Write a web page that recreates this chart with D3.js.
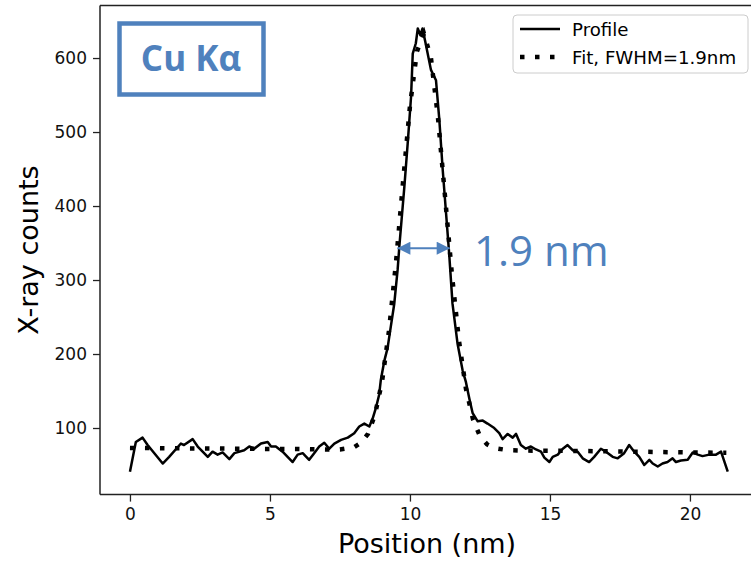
<!DOCTYPE html>
<html>
<head>
<meta charset="utf-8">
<script src="https://cdn.jsdelivr.net/npm/d3@7"></script>
<style>
  body { margin: 0; background: #fff; }
  svg { display: block; font-family: "DejaVu Sans", sans-serif; }
</style>
</head>
<body>
<svg id="chart" width="751" height="563"></svg>
<script>
// Measured line profile (position in nm, counts)
const profileX = [0.0, 0.21, 0.45, 0.63, 1.17, 1.40, 1.82, 1.93, 2.24, 2.42, 2.78, 2.95, 3.13, 3.31, 3.55, 3.73,
  4.08, 4.26, 4.44, 4.68, 4.92, 5.04, 5.21, 5.45, 5.81, 5.99, 6.17, 6.40, 6.58, 6.76, 6.94, 7.12, 7.30, 7.54,
  7.78, 8.01, 8.19, 8.37, 8.55, 8.67, 8.79, 8.90, 8.96, 9.08, 9.20, 9.32, 9.44, 9.56, 9.62, 9.80, 9.92, 10.04,
  10.10, 10.21, 10.28, 10.37, 10.45, 10.57, 10.75, 10.93, 11.05, 11.17, 11.29, 11.40, 11.52, 11.70, 11.88, 12.0,
  12.12, 12.24, 12.42, 12.60, 12.77, 13.01, 13.19, 13.31, 13.49, 13.67, 13.79, 13.96, 14.14, 14.32, 14.50, 14.68,
  14.80, 14.98, 15.10, 15.28, 15.46, 15.63, 15.81, 15.99, 16.17, 16.40, 16.58, 16.82, 17.0, 17.24, 17.42, 17.65,
  17.83, 18.01, 18.19, 18.37, 18.55, 18.67, 18.85, 19.02, 19.20, 19.38, 19.50, 19.68, 19.92, 20.10, 20.28, 20.45,
  20.69, 20.93, 21.11, 21.35];
const profileY = [41, 81, 87, 77, 52, 61, 79, 77, 85, 75, 61, 68, 64, 67, 58, 66,
  70, 75, 72, 79, 81, 75, 75, 68, 54, 64, 66, 57, 66, 75, 80, 72, 79, 84,
  87, 93, 102, 106, 102, 113, 128, 145, 165, 190, 208, 238, 268, 314, 345, 426, 485, 548,
  606, 620, 640, 631, 640, 618, 584, 570, 516, 449, 390, 336, 268, 214, 178, 162,
  140, 120, 109, 110, 106, 100, 93, 85, 92, 87, 92, 77, 72, 75, 71, 68,
  60, 54, 61, 64, 72, 77, 70, 68, 59, 54, 61, 72, 68, 61, 59, 66,
  77, 68, 61, 50, 57, 52, 48, 52, 54, 59, 54, 56, 57, 67, 64, 62,
  64, 64, 68, 41];

// Fitted curve
const fitX = [0, 2, 4, 6, 7, 7.5, 8, 8.25, 8.5, 8.75, 9, 9.25, 9.5, 9.75, 10, 10.25, 10.5, 10.75, 11, 11.25,
  11.5, 11.75, 12, 12.25, 12.5, 12.75, 13, 13.5, 14, 16, 18, 20, 21.3];
const fitY = [73, 72.5, 72, 71.5, 71, 71, 74, 80, 92, 118, 162, 231, 323, 431, 535, 609, 633, 600, 520, 414,
  307, 218, 153, 112, 89, 78, 73, 70, 69.5, 69, 68, 67, 66.5];

const xTicks = [0, 5, 10, 15, 20];
const yTicks = [100, 200, 300, 400, 500, 600];
const legendLabels = ["Profile", "Fit, FWHM=1.9nm"];
const fwhmEnds = [9.55, 11.42];
const fwhmLevel = 343;

const BLUE = "#4f81bd";

const svg = d3.select("#chart");

// Scales (right spine falls outside the picture, as in the original)
const x = d3.scaleLinear().domain([-1.07, 22.42]).range([100, 757.7]);
const y = d3.scaleLinear().domain([10, 671]).range([494.6, 5.5]);

// Top spine
svg.append("line")
  .attr("x1", 100).attr("x2", 751).attr("y1", y(671)).attr("y2", y(671))
  .attr("stroke", "#222").attr("stroke-width", 1.5);

// Y axis
svg.append("g")
  .attr("transform", "translate(100,0)")
  .call(d3.axisLeft(y).tickValues(yTicks).tickSize(7).tickPadding(6))
  .call((g) => {
    g.select(".domain").attr("stroke", "#222").attr("stroke-width", 1.5)
      .attr("d", `M0,${y(10)}V${y(671)}`);
    g.selectAll(".tick line").attr("stroke", "#222").attr("stroke-width", 1.3);
    g.selectAll(".tick text").attr("font-size", "17px").attr("fill", "#111")
      .attr("font-family", "DejaVu Sans");
  });

// X axis
svg.append("g")
  .attr("transform", `translate(0,${y(10)})`)
  .call(d3.axisBottom(x).tickValues(xTicks).tickSize(7).tickPadding(6))
  .call((g) => {
    g.select(".domain").attr("stroke", "#222").attr("stroke-width", 1.5)
      .attr("d", "M100,0H751");
    g.selectAll(".tick line").attr("stroke", "#222").attr("stroke-width", 1.3);
    g.selectAll(".tick text").attr("font-size", "17px").attr("fill", "#111")
      .attr("font-family", "DejaVu Sans");
  });

// Axis titles
svg.append("text")
  .attr("x", 427).attr("y", 553)
  .attr("text-anchor", "middle")
  .attr("font-size", "27px")
  .text("Position (nm)");

svg.append("text")
  .attr("transform", "translate(38,250) rotate(-90)")
  .attr("text-anchor", "middle")
  .attr("font-size", "27px")
  .text("X-ray counts");

// Data lines
const line = d3.line().x((d) => x(d[0])).y((d) => y(d[1]));

svg.append("path")
  .attr("d", line(d3.zip(fitX, fitY)))
  .attr("fill", "none")
  .attr("stroke", "#000")
  .attr("stroke-width", 4.5)
  .attr("stroke-dasharray", "4.5 10.5");

svg.append("path")
  .attr("d", line(d3.zip(profileX, profileY)))
  .attr("fill", "none")
  .attr("stroke", "#000")
  .attr("stroke-width", 2.5)
  .attr("stroke-linejoin", "round");

// Legend
const legend = svg.append("g").attr("transform", "translate(513,15)");
legend.append("rect")
  .attr("width", 235).attr("height", 58).attr("rx", 4)
  .attr("fill", "#fff").attr("fill-opacity", 0.8)
  .attr("stroke", "#ccc").attr("stroke-width", 1);
legendLabels.forEach((label, i) => {
  const cy = 14 + i * 28;
  legend.append("line")
    .attr("x1", 7).attr("x2", 47).attr("y1", cy).attr("y2", cy)
    .attr("stroke", "#000")
    .attr("stroke-width", i === 0 ? 2.5 : 4.5)
    .attr("stroke-dasharray", i === 0 ? null : "4.5 10.5");
  legend.append("text")
    .attr("x", 59).attr("y", cy + 6.5)
    .attr("font-size", "18.2px")
    .text(label);
});

// "Cu Kα" label box
svg.append("rect")
  .attr("x", 119.5).attr("y", 23.5).attr("width", 144).attr("height", 71)
  .attr("fill", "none").attr("stroke", BLUE).attr("stroke-width", 4.5);
svg.append("text")
  .attr("x", 191).attr("y", 71)
  .attr("text-anchor", "middle")
  .attr("font-family", "Open Sans").attr("font-weight", "bold")
  .attr("font-size", "35px").attr("fill", BLUE)
  .text("Cu Kα");

// FWHM arrow
const defs = svg.append("defs");
defs.append("marker")
  .attr("id", "head").attr("viewBox", "0 0 10 10")
  .attr("refX", 10).attr("refY", 5)
  .attr("markerWidth", 7).attr("markerHeight", 6.5)
  .attr("markerUnits", "strokeWidth")
  .attr("orient", "auto-start-reverse")
  .append("path").attr("d", "M0,0L10,5L0,10Z").attr("fill", BLUE);

svg.append("line")
  .attr("x1", x(fwhmEnds[0])).attr("x2", x(fwhmEnds[1]))
  .attr("y1", y(fwhmLevel)).attr("y2", y(fwhmLevel))
  .attr("stroke", BLUE).attr("stroke-width", 2)
  .attr("marker-start", "url(#head)")
  .attr("marker-end", "url(#head)");

svg.append("text")
  .attr("x", 474).attr("y", 266)
  .attr("font-family", "Open Sans")
  .attr("font-size", "42px").attr("fill", BLUE)
  .text("1.9 nm");
</script>
</body>
</html>
